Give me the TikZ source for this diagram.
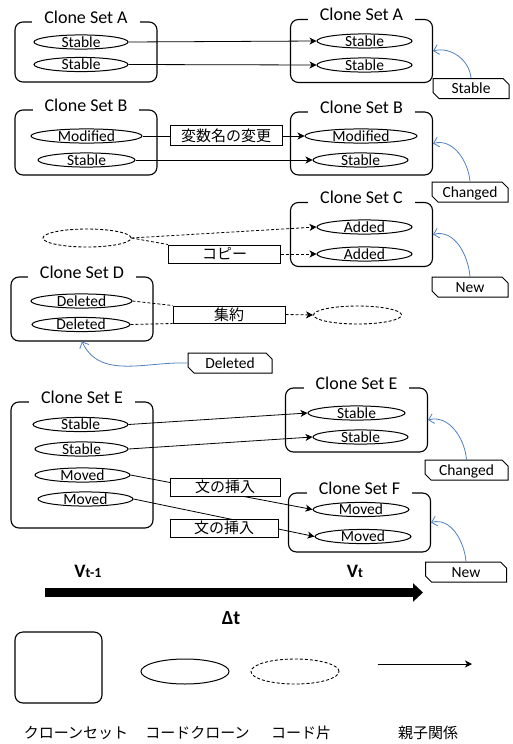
\documentclass[tikz,border=0pt]{standalone}
\usepackage{fontspec}
\setmainfont{Carlito}
\newfontfamily\jp{Noto Sans CJK JP}
\usepackage{tikz}
\usetikzlibrary{arrows.meta,shapes.geometric,shapes.misc}
\definecolor{linkblue}{RGB}{79,129,189}
\tikzset{
  cset/.style={draw, line width=1.1pt, rounded corners=8pt, minimum width=142pt, inner sep=0pt},
  settitle/.style={fill=white, inner xsep=12pt, inner ysep=0pt, text height=11.5pt, text depth=0pt, font=\fontsize{18}{21}\selectfont},
  clone/.style={draw, ellipse, line width=1pt, inner sep=0pt, minimum height=14pt, text height=10pt, text depth=0pt, font=\fontsize{15.5}{18}\selectfont},
  frag/.style={draw, ellipse, dash pattern=on 3pt off 2pt, line width=0.9pt, minimum width=88pt, minimum height=18pt, inner sep=0pt},
  change/.style={draw, fill=white, line width=1pt, minimum width=112pt, minimum height=20pt, inner sep=0pt, text height=11.4pt, text depth=0pt, font=\jp\fontsize{15}{18}\selectfont},
  tag/.style={draw, fill=white, chamfered rectangle, chamfered rectangle corners={south west,north east}, chamfered rectangle xsep=3pt, chamfered rectangle ysep=3pt, line width=1pt, minimum width=76pt, minimum height=20pt, inner sep=0pt, text height=10pt, text depth=0pt, font=\fontsize{15.5}{18}\selectfont},
  flow/.style={line width=0.8pt, -{Stealth[length=7pt,width=7pt,inset=2pt]}},
  broken/.style={line width=0.8pt, dash pattern=on 3pt off 2pt},
  kind/.style={linkblue, line width=0.8pt, -{Straight Barb[length=5pt,width=10pt]}},
  version/.style={font=\bfseries\fontsize{19}{22}\selectfont},
  legend/.style={font=\jp\fontsize{15}{18}\selectfont}
}
\begin{document}
\begin{tikzpicture}[x=1pt,y=1pt]
\useasboundingbox (0,0) rectangle (513,-744);

\node[cset, minimum height=60pt] (a1) at (86,-52) {};
\node[cset, minimum height=63pt] (a2) at (361.5,-51) {};
\node[settitle] (a1t) at ([yshift=4pt]a1.north) {Clone Set A};
\node[settitle] (a2t) at ([yshift=4pt]a2.north) {Clone Set A};
\node[clone, minimum width=94pt] (a1s1) at (81,-42) {Stable};
\node[clone, minimum width=94pt] (a1s2) at (81,-64.5) {Stable};
\node[clone, minimum width=95pt] (a2s1) at (364.5,-41) {Stable};
\node[clone, minimum width=95pt] (a2s2) at (364.5,-65) {Stable};
\draw[flow] (a1s1.east) -- (a2s1.west);
\draw[flow] (a1s2.east) -- (a2s2.west);
\node[tag] (ta) at (471,-88.5) {Stable};
\draw[kind] (ta.north) to[out=95,in=15] (a2.east);

\node[cset, minimum height=65pt] (b1) at (86,-142.5) {};
\node[cset, minimum height=63pt] (b2) at (361.5,-143.5) {};
\node[settitle] (b1t) at ([yshift=4pt]b1.north) {Clone Set B};
\node[settitle] (b2t) at ([yshift=4pt]b2.north) {Clone Set B};
\node[clone, minimum width=111pt] (b1m) at (86.5,-136) {Modified};
\node[clone, minimum width=97pt] (b1s) at (86.5,-160) {Stable};
\node[clone, minimum width=112pt] (b2m) at (361,-136) {Modified};
\node[clone, minimum width=95pt] (b2s) at (360.5,-160) {Stable};
\draw[flow] (b1m.east) -- (b2m.west);
\draw[flow] (b1s.east) -- (b2s.west);
\node[change] (rename) at (226,-135.5) {変数名の変更};
\node[tag] (tb) at (470,-192) {Changed};
\draw[kind] (tb.north) to[out=95,in=15] (b2.east);

\node[cset, minimum height=64pt] (c2) at (361.5,-234.5) {};
\node[settitle] (c2t) at ([yshift=4pt]c2.north) {Clone Set C};
\node[clone, minimum width=95pt] (c2a1) at (364.5,-227) {Added};
\node[clone, minimum width=95pt] (c2a2) at (364.5,-254) {Added};
\node[frag] (src) at (87,-238) {};
\node[change, minimum height=18pt] (copy) at (224.5,-254) {コピー};
\draw[broken, flow] (src.east) -- (c2a1.west);
\draw[broken] (src.east) -- (copy.north west);
\draw[broken, flow] (copy.east) -- (c2a2.west);
\node[tag] (tc) at (470,-287) {New};
\draw[kind] (tc.north) to[out=95,in=15] (c2.east);

\node[cset, minimum height=64pt] (d1) at (82,-309) {};
\node[settitle] (d1t) at ([yshift=4pt]d1.north) {Clone Set D};
\node[clone, minimum width=101pt] (d1d1) at (81.5,-301) {Deleted};
\node[clone, minimum width=98pt] (d1d2) at (81,-324.5) {Deleted};
\node[change, minimum height=17pt] (merge) at (229,-314.5) {集約};
\node[frag] (dst) at (357.5,-315) {};
\draw[broken] (d1d1.east) -- (merge.north west);
\draw[broken] (d1d2.east) -- (merge.south west);
\draw[broken, flow] (merge.east) -- (dst.west);
\node[tag, minimum width=84pt] (td) at (230,-363) {Deleted};
\draw[kind] (td.west) to[out=178,in=-65] (d1.south);

\node[cset, minimum height=126pt] (e1) at (82,-465) {};
\node[settitle] (e1t) at ([yshift=4pt]e1.north) {Clone Set E};
\node[clone, minimum width=95pt] (e1s1) at (80.5,-424.5) {Stable};
\node[clone, minimum width=93pt] (e1s2) at (81.5,-449) {Stable};
\node[clone, minimum width=95pt] (e1m1) at (82.5,-475) {Moved};
\node[clone, minimum width=95pt] (e1m2) at (85.5,-499) {Moved};
\node[cset, minimum height=64pt] (e2) at (356.5,-420) {};
\node[settitle] (e2t) at ([yshift=4pt]e2.north) {Clone Set E};
\node[clone, minimum width=97pt] (e2s1) at (356.5,-413) {Stable};
\node[clone, minimum width=95pt] (e2s2) at (360.5,-437) {Stable};
\node[cset, minimum height=59pt] (f2) at (359.5,-522.5) {};
\node[settitle] (f2t) at ([yshift=4pt]f2.north) {Clone Set F};
\node[clone, minimum width=96pt] (f2m1) at (361,-509.5) {Moved};
\node[clone, minimum width=96pt] (f2m2) at (363,-536.5) {Moved};
\draw[flow] (e1s1.east) -- (e2s1.west);
\draw[flow] (e1s2.east) -- (e2s2.west);
\draw[flow] (e1m1.east) -- (f2m1.west);
\draw[flow] (e1m2.east) -- (f2m2.west);
\node[change, minimum width=110pt, minimum height=18pt] (ins1) at (225,-487) {文の挿入};
\node[change, minimum width=108pt, minimum height=18pt] (ins2) at (224,-528) {文の挿入};
\node[tag, minimum width=83pt] (te) at (466.5,-470) {Changed};
\draw[kind] (te.north) to[out=95,in=15] (e2.east);
\node[tag, minimum width=81pt] (tf) at (466,-572) {New};
\draw[kind] (tf.north) to[out=95,in=15] (f2.east);

\coordinate (t0) at (45,-592.5);
\coordinate (t1) at (423,-592.5);
\draw[line width=9pt, -{Triangle[length=10pt,width=18pt]}] (t0) -- (t1);
\node[version] (vold) at (88,-571) {V{\fontsize{14}{16}\selectfont t-1}};
\node[version] (vnew) at (355,-571) {V{\fontsize{14}{16}\selectfont t}};
\node[version, font=\bfseries\fontsize{20}{23}\selectfont] (dt) at (231,-618) {Δt};

\node[cset, minimum width=87pt, minimum height=71pt] (lset) at (58.5,-667.5) {};
\node[draw, ellipse, line width=1pt, minimum width=88pt, minimum height=25pt, inner sep=0pt] (lclone) at (185,-671.5) {};
\node[frag, minimum height=25pt] (lfrag) at (295,-671.5) {};
\coordinate (la0) at (378,-664);
\coordinate (la1) at (472,-664);
\draw[flow] (la0) -- (la1);
\node[legend] (lsetname) at (76,-733) {クローンセット};
\node[legend] (lclonename) at (197.5,-733) {コードクローン};
\node[legend] (lfragname) at (301,-733) {コード片};
\node[legend] (larrowname) at (428,-733) {親子関係};
\end{tikzpicture}
\end{document}
